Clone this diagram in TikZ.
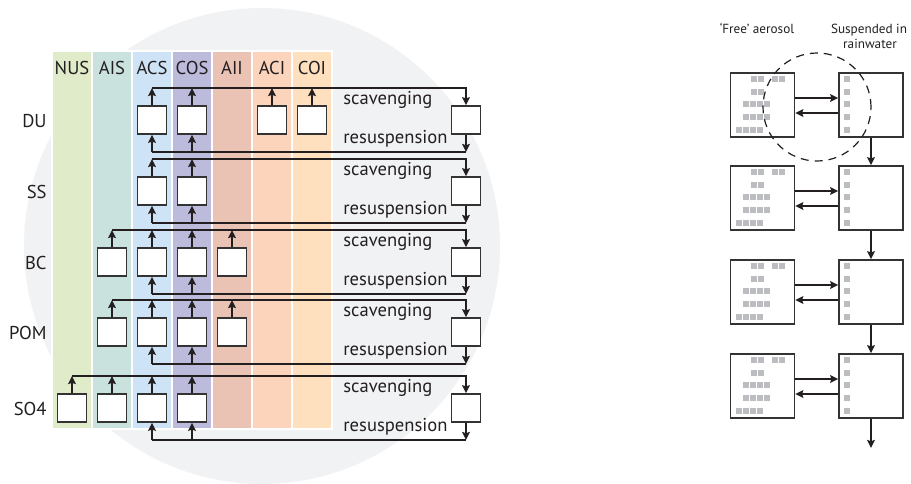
\documentclass[tikz,border=0pt]{standalone}
\usepackage{fontspec}
\setmainfont{PT Sans}
\usetikzlibrary{arrows.meta,positioning}
\definecolor{bgCircle}{HTML}{F1F2F4}
\definecolor{colNUS}{HTML}{DFEBC9}
\definecolor{colAIS}{HTML}{C9E2DE}
\definecolor{colACS}{HTML}{CEE4F6}
\definecolor{colCOS}{HTML}{BDBBDC}
\definecolor{colAII}{HTML}{EBC3B5}
\definecolor{colACI}{HTML}{FCD3BB}
\definecolor{colCOI}{HTML}{FEE0BF}
\definecolor{boxGrey}{HTML}{333333}
\definecolor{lineBlack}{HTML}{231F20}
\definecolor{dotGrey}{HTML}{BCBDC0}
\begin{document}
\begin{tikzpicture}[x=0.5pt, y=-0.5pt,
    modebox/.style={draw=boxGrey, line width=0.8pt, fill=white,
                    minimum width=14.5pt, minimum height=14pt, inner sep=0pt},
    bigbox/.style={draw=boxGrey, line width=0.8pt, fill=white,
                   minimum size=32pt, inner sep=0pt},
    flow/.style={-{Stealth[length=4pt, width=3.8pt, inset=0.6pt]},
                 line width=0.85pt, draw=lineBlack},
    wire/.style={line width=0.85pt, draw=lineBlack},
    txt/.style={font=\fontsize{9.3}{11}\selectfont, text=lineBlack, inner sep=0pt},
    smalltxt/.style={font=\fontsize{6.6}{8}\selectfont, text=lineBlack, inner sep=0pt}
  ]
  \useasboundingbox (0,0) rectangle (911,483);
  % background disc and size-mode columns
  \fill[bgCircle] (262,246) circle[radius=119pt];
  \fill[white] (51,50) rectangle (333,430);
  \foreach \m/\c [count=\i] in {NUS/colNUS,AIS/colAIS,ACS/colACS,COS/colCOS,AII/colAII,ACI/colACI,COI/colCOI}{
    \fill[\c] ({13+40*\i},52) rectangle +(38,376);
    \node[txt, anchor=base] (\m) at ({32+40*\i},74) {\m};
  }
  % one row per species
  \foreach \sp/\yc/\modes/\first in {DU/120/{ACS,COS,ACI,COI}/ACS,
      SS/191/{ACS,COS}/ACS, BC/262/{AIS,ACS,COS,AII}/AIS,
      POM/332/{AIS,ACS,COS,AII}/AIS, SO4/408/{NUS,AIS,ACS,COS}/NUS}{
    \coordinate (\sp-row) at (0,\yc);
    \coordinate (\sp-sc) at (0,\yc-32);
    \coordinate (\sp-rs) at (0,\yc+32);
    \node[txt, anchor=base east] (\sp) at (47,\yc+7) {\sp};
    \node[modebox] (\sp-wet) at (466,\yc) {};
    \foreach \m in \modes {
      \node[modebox] (\sp-\m) at (\m |- \sp-row) {};
      \draw[flow] (\sp-\m.north) -- (\sp-\m.north |- \sp-sc);
    }
    \draw[flow] (\first |- \sp-sc) -| (\sp-wet.north);
    \node[txt, anchor=base west] (\sp-sclab) at (343,\yc-15.5) {scavenging};
    \node[txt, anchor=base west] (\sp-rslab) at (343,\yc+23.5) {resuspension};
    \draw[flow] (\sp-wet.south) -- (\sp-wet.south |- \sp-rs);
    \draw[wire] (\sp-wet.south |- \sp-rs) -- (ACS |- \sp-rs);
    \foreach \m in {ACS,COS}
      \draw[flow] (\m |- \sp-rs) -- (\sp-\m.south);
  }
  % right: free aerosol vs. rainwater
  \node[smalltxt, anchor=base] (freehead) at (757,33) {‘Free’ aerosol};
  \node[smalltxt, anchor=base] (rainhead) at (869,33) {Suspended in};
  \node[smalltxt, anchor=base] (rainhead2) at (870,48) {rainwater};
  \foreach \i/\yc in {1/105,2/198,3/292,4/386}{
    \node[bigbox] (free\i) at (762.5,\yc) {};
    \node[bigbox] (rain\i) at (871,\yc) {};
    \foreach \dx/\dy in {21/4,28/4,42/4,49/4,21/17,28/17,13/29,20/29,27/29,34/29,
                         13/42,20/42,27/42,34/42,6/55,13/55,20/55,27/55}
      \fill[dotGrey] ([shift={(\dx,\dy)}]free\i.north west) rectangle +(6,6);
    \foreach \dy in {4,17,29,42,55}
      \fill[dotGrey] ([shift={(6,\dy)}]rain\i.north west) rectangle +(6,6);
    \draw[flow] ([yshift=3.5pt]free\i.east) -- ([yshift=3.5pt]rain\i.west);
    \draw[flow] ([yshift=-4pt]rain\i.west) -- ([yshift=-4pt]free\i.east);
  }
  \foreach \i/\j in {1/2,2/3,3/4}
    \draw[flow] (rain\i.south) -- (rain\j.north);
  \coordinate (drain) at (871,448);
  \draw[flow] (rain4.south) -- (drain);
  \draw[lineBlack, line width=0.6pt, dash pattern=on 4pt off 3pt] (817,107) circle[radius=27pt];
\end{tikzpicture}
\end{document}
